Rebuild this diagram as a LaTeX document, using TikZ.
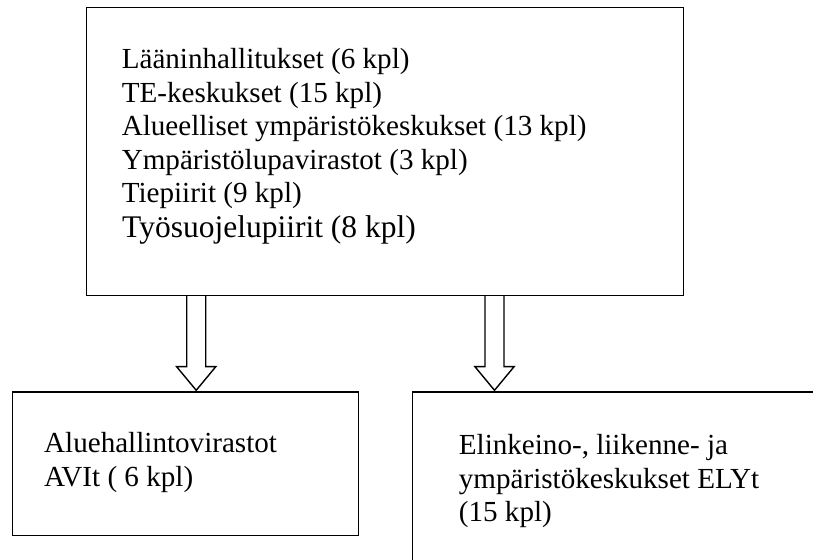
\documentclass[tikz,border=0pt]{standalone}
\usepackage{fontspec}
\setmainfont{Liberation Serif}
\usetikzlibrary{calc}

% Hollow block arrow from a start point straight down to a tip point
\newcommand\hollowarrow[2]{%
  \draw[blockarrow]
    ($(#1)+(-9.5,0)$) -- ($(#2)+(-9.5,23.7)$) -- ($(#2)+(-19.65,23.7)$)
    -- (#2) -- ($(#2)+(19.65,23.7)$) -- ($(#2)+(9.5,23.7)$) -- ($(#1)+(9.5,0)$);}

\begin{document}
\begin{tikzpicture}[x=1pt,y=1pt,
  frame/.style={draw, line width=1.4pt, inner sep=0pt, anchor=south west},
  % multi-line texts are placed by the baseline of their last line
  boxtext/.style={inner sep=0pt, anchor=base west, align=left,
    font=\fontsize{29.1}{33.8}\selectfont},
  blockarrow/.style={draw, line width=1.4pt, line join=miter}]
\useasboundingbox (0,0) rectangle (813,559);
\begin{scope}
\clip (0,0) rectangle (813,559);

% boxes
\node[frame, minimum width=597pt, minimum height=287.7pt] (top) at (86,263) {};
\node[frame, minimum width=346.3pt, minimum height=143.3pt] (avi) at (11.7,23) {};
\node[frame, minimum width=500pt, minimum height=216.3pt] (ely) at (411.7,-50) {};

% texts
\node[boxtext, font=\fontsize{29.1}{33.5}\selectfont] (toptext) at ($(top.south west)+(35.6,93)$)
  {Lääninhallitukset (6 kpl)\\
   TE-keskukset (15 kpl)\\
   Alueelliset ympäristökeskukset (13 kpl)\\
   Ympäristölupavirastot (3 kpl)\\
   Tiepiirit (9 kpl)};
\node[boxtext, font=\fontsize{31.5}{35}\selectfont] (toplast) at ($(top.south west)+(36,58)$)
  {Työsuojelupiirit (8 kpl)};
\node[boxtext] (avitext) at ($(avi.south west)+(32.3,49.3)$)
  {Aluehallintovirastot\\ AVIt ( 6 kpl)};
\node[boxtext] (elytext) at ($(ely.south west)+(47,87)$)
  {Elinkeino-, liikenne- ja\\ ympäristökeskukset ELYt\\ (15 kpl)};

% arrows between the levels
\coordinate (a1s) at ($(top.south west)+(110.2,0)$);
\coordinate (a1t) at ($(avi.north west)+(184.5,1)$);
\coordinate (a2s) at ($(top.south west)+(408.5,0)$);
\coordinate (a2t) at ($(ely.north west)+(82.8,1)$);
\hollowarrow{a1s}{a1t}
\hollowarrow{a2s}{a2t}
\end{scope}
\end{tikzpicture}
\end{document}
